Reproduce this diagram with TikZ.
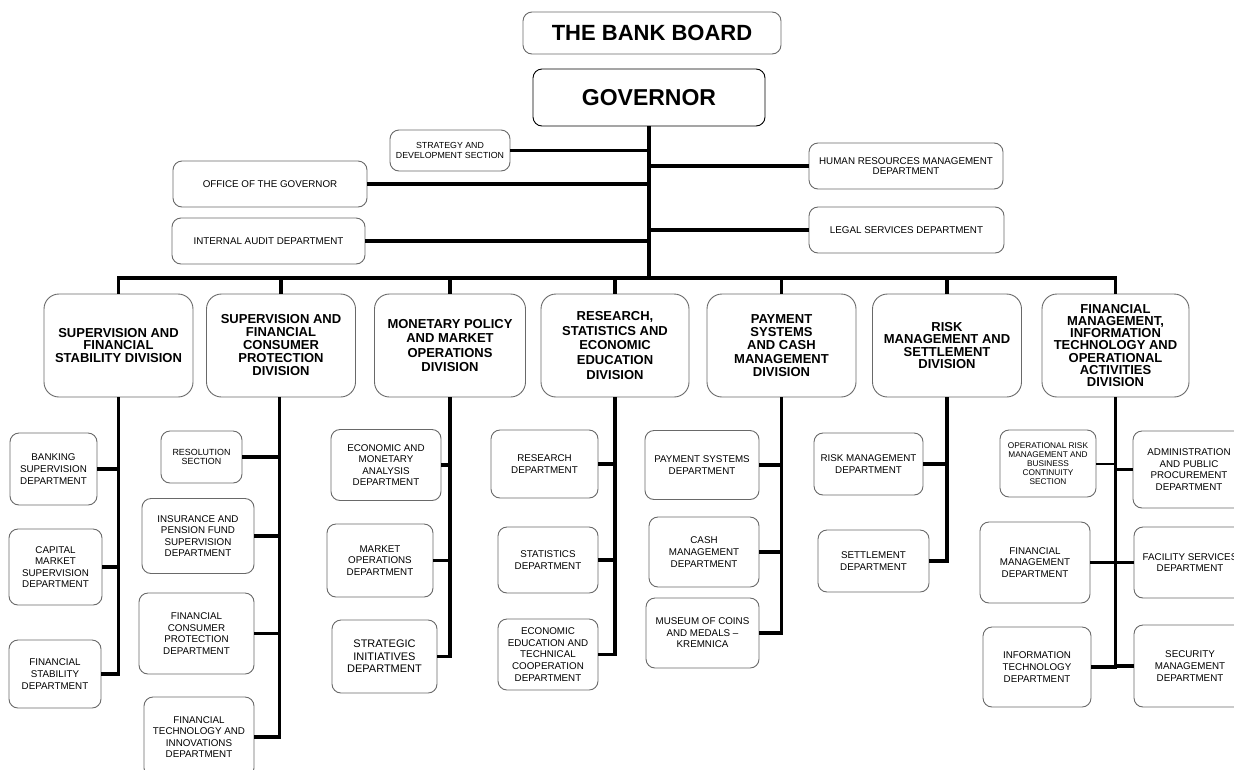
\documentclass[tikz,border=0pt]{standalone}
\usepackage{fontspec}
\setmainfont{Liberation Sans}
\usetikzlibrary{positioning}
\definecolor{boxline}{RGB}{105,105,105}

\begin{document}
\begin{tikzpicture}[x=1pt,y=-1pt,
    wh/.style 2 args={minimum width=#1pt,minimum height=#2pt},
    orgbox/.style={draw=boxline,line width=0.9pt,rounded corners=9pt,align=center,inner sep=1pt,
        font=\fontsize{9.8}{11.6}\selectfont},
    divbox/.style={orgbox,rounded corners=15pt,wh={149}{103},font=\fontsize{13}{12.5}\selectfont\bfseries},
    armline/.style={line width=3.6pt}]
    \useasboundingbox[fill=white] (0,0) rectangle (1234,769);

    \node[orgbox,wh={258}{42},font=\fontsize{22}{24}\selectfont\bfseries] (board) at (652,33) {THE BANK BOARD};
    \node[orgbox,wh={232}{57},draw=black,font=\fontsize{23}{25}\selectfont\bfseries] (governor) at (649,97.5) {GOVERNOR};
    \node[orgbox,wh={120}{41},font=\fontsize{8.8}{9.7}\selectfont] (strategy) at (450,150.5) {STRATEGY AND\\DEVELOPMENT SECTION};
    \node[orgbox,wh={194}{46}] (office) at (270,184) {OFFICE OF THE GOVERNOR};
    \node[orgbox,wh={193}{46}] (audit) at (268.5,241) {INTERNAL AUDIT DEPARTMENT};
    \node[orgbox,wh={194}{46},font=\fontsize{9.8}{10.8}\selectfont] (hr) at (906,166) {HUMAN RESOURCES MANAGEMENT\\DEPARTMENT};
    \node[orgbox,wh={195}{46}] (legal) at (906.5,230) {LEGAL SERVICES DEPARTMENT};

    \coordinate (bus) at (650,278);
    \draw[armline,line width=4pt] (governor.south) -- (governor.south |- bus);
    \foreach \n in {strategy,office,audit,hr,legal}
        \draw[armline,line width=3.2pt] (\n) -- (\n -| governor.south);

    \node[divbox] (div1) at (118.5,345.5) {SUPERVISION AND\\FINANCIAL\\STABILITY DIVISION};
    \node[divbox,font=\fontsize{13}{13}\selectfont\bfseries] (div2) at (281,345.5) {SUPERVISION AND\\FINANCIAL\\CONSUMER\\PROTECTION\\DIVISION};
    \node[divbox,wh={151}{103},font=\fontsize{13}{14.6}\selectfont\bfseries] (div3) at (450,345.5) {MONETARY POLICY\\AND MARKET\\OPERATIONS\\DIVISION};
    \node[divbox,wh={148}{103},font=\fontsize{13}{14.6}\selectfont\bfseries] (div4) at (615,345.5) {RESEARCH,\\STATISTICS AND\\ECONOMIC\\EDUCATION\\DIVISION};
    \node[divbox,font=\fontsize{13}{13.3}\selectfont\bfseries] (div5) at (781.5,345.5) {PAYMENT\\SYSTEMS\\AND CASH\\MANAGEMENT\\DIVISION};
    \node[divbox] (div6) at (947,345.5) {RISK\\MANAGEMENT AND\\SETTLEMENT\\DIVISION};
    \node[divbox,wh={147}{103},font=\fontsize{13}{12.2}\selectfont\bfseries] (div7) at (1115.5,345.5) {FINANCIAL\\MANAGEMENT,\\INFORMATION\\TECHNOLOGY AND\\OPERATIONAL\\ACTIVITIES\\DIVISION};

    \draw[armline] (div1.north) -- (div1.north |- bus) -- (div7.north |- bus) -- (div7.north);
    \foreach \n in {div2,div3,div4,div5,div6}
        \draw[armline] (\n.north) -- (\n.north |- bus);

    \node[orgbox,wh={87}{72}] (banking) at (53.5,469) {BANKING\\SUPERVISION\\DEPARTMENT};
    \node[orgbox,wh={93}{76}] (capital) at (55.5,567) {CAPITAL\\MARKET\\SUPERVISION\\DEPARTMENT};
    \node[orgbox,wh={92}{68}] (finstab) at (55,674) {FINANCIAL\\STABILITY\\DEPARTMENT};

    \node[orgbox,wh={81}{52},font=\fontsize{8.9}{9}\selectfont] (resolution) at (201.5,457) {RESOLUTION\\SECTION};
    \node[orgbox,wh={112}{75}] (insurance) at (198,536) {INSURANCE AND\\PENSION FUND\\SUPERVISION\\DEPARTMENT};
    \node[orgbox,wh={115}{81}] (consumer) at (196.5,633.5) {FINANCIAL\\CONSUMER\\PROTECTION\\DEPARTMENT};
    \node[orgbox,wh={110}{80}] (fintech) at (199,737) {FINANCIAL\\TECHNOLOGY AND\\INNOVATIONS\\DEPARTMENT};

    \node[orgbox,wh={110}{71}] (econ) at (386,465) {ECONOMIC AND\\MONETARY\\ANALYSIS\\DEPARTMENT};
    \node[orgbox,wh={106}{73}] (market) at (380,560.5) {MARKET\\OPERATIONS\\DEPARTMENT};
    \node[orgbox,wh={105}{73},font=\fontsize{11}{12.5}\selectfont] (strategic) at (384.5,656.5) {STRATEGIC\\INITIATIVES\\DEPARTMENT};

    \node[orgbox,wh={107}{68}] (research) at (544.5,464) {RESEARCH\\DEPARTMENT};
    \node[orgbox,wh={100}{66}] (statistics) at (548,560) {STATISTICS\\DEPARTMENT};
    \node[orgbox,wh={100}{71}] (education) at (548,654.5) {ECONOMIC\\EDUCATION AND\\TECHNICAL\\COOPERATION\\DEPARTMENT};

    \node[orgbox,wh={114}{69}] (payment) at (702,465) {PAYMENT SYSTEMS\\DEPARTMENT};
    \node[orgbox,wh={110}{70}] (cash) at (704,552) {CASH\\MANAGEMENT\\DEPARTMENT};
    \node[orgbox,wh={113}{70}] (museum) at (702.5,633) {MUSEUM OF COINS\\AND MEDALS –\\KREMNICA};

    \node[orgbox,wh={109}{62}] (risk) at (868.5,464) {RISK MANAGEMENT\\DEPARTMENT};
    \node[orgbox,wh={111}{62}] (settlement) at (873.5,561) {SETTLEMENT\\DEPARTMENT};

    \node[orgbox,wh={96}{67},font=\fontsize{8.3}{9}\selectfont] (oprisk) at (1048,463.5) {OPERATIONAL RISK\\MANAGEMENT AND\\BUSINESS\\CONTINUITY\\SECTION};
    \node[orgbox,wh={112}{77}] (admin) at (1189,469.5) {ADMINISTRATION\\AND PUBLIC\\PROCUREMENT\\DEPARTMENT};
    \node[orgbox,wh={110}{81}] (finman) at (1035,562.5) {FINANCIAL\\MANAGEMENT\\DEPARTMENT};
    \node[orgbox,wh={112}{71}] (facility) at (1190,562.5) {FACILITY SERVICES\\DEPARTMENT};
    \node[orgbox,wh={108}{80}] (infotech) at (1037,667) {INFORMATION\\TECHNOLOGY\\DEPARTMENT};
    \node[orgbox,wh={112}{82}] (security) at (1190,666) {SECURITY\\MANAGEMENT\\DEPARTMENT};

    \draw[armline] (div1.south) |- (finstab);
    \foreach \n in {banking,capital}
        \draw[armline] (\n) -- (\n -| div1.south);
    \draw[armline] ([xshift=-1.5pt]div2.south) |- (fintech);
    \foreach \n in {resolution,insurance,consumer}
        \draw[armline] (\n) -- (\n -| fintech.east -| div2.south);
    \draw[armline] (div3.south) |- (strategic);
    \foreach \n in {econ,market}
        \draw[armline] (\n) -- (\n -| div3.south);
    \draw[armline] (div4.south) |- (education);
    \foreach \n in {research,statistics}
        \draw[armline] (\n) -- (\n -| div4.south);
    \draw[armline] (div5.south) |- (museum);
    \foreach \n in {payment,cash}
        \draw[armline] (\n) -- (\n -| div5.south);
    \draw[armline] (div6.south) |- (settlement);
    \draw[armline] (risk) -- (risk -| div6.south);
    \draw[armline] (div7.south) |- (infotech);
    \draw[armline,line width=2pt] (oprisk) -- (oprisk -| div7.south);
    \foreach \n in {admin,finman,facility,security}
        \draw[armline] (\n) -- (\n -| div7.south);
\end{tikzpicture}
\end{document}
